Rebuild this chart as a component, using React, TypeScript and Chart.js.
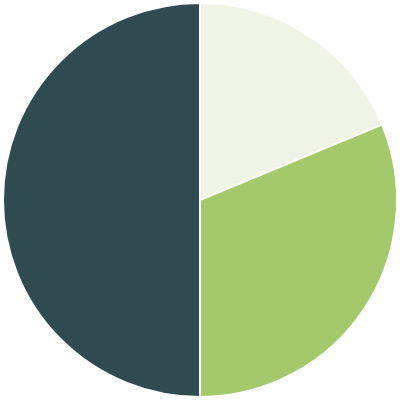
import React, { useEffect, useRef } from "react";
import { Chart, registerables } from "chart.js";

Chart.register(...registerables);

const labels = ["A", "B", "C"];
const values = [3, 5, 8];
const colors = ["#eff4e6", "#a3c96b", "#2f4b50"];

export default function App() {
  const ref = useRef<HTMLCanvasElement | null>(null);
  useEffect(() => {
    if (!ref.current) return;
    const chart = new Chart(ref.current, {
      type: "pie",
      data: {
        labels,
        datasets: [
          {
            data: values,
            backgroundColor: colors,
            borderColor: "#ffffff",
            borderWidth: 2,
          },
        ],
      },
      options: {
        animation: false,
        responsive: false,
        layout: { padding: 2 },
        plugins: { legend: { display: false }, tooltip: { enabled: false } },
      },
    });
    return () => chart.destroy();
  }, []);
  return (
    <div style={{ position: "absolute", left: 0, top: 0, width: 400, height: 400, background: "#fff" }}>
      <canvas ref={ref} width={400} height={400} style={{ width: 400, height: 400 }} />
    </div>
  );
}
